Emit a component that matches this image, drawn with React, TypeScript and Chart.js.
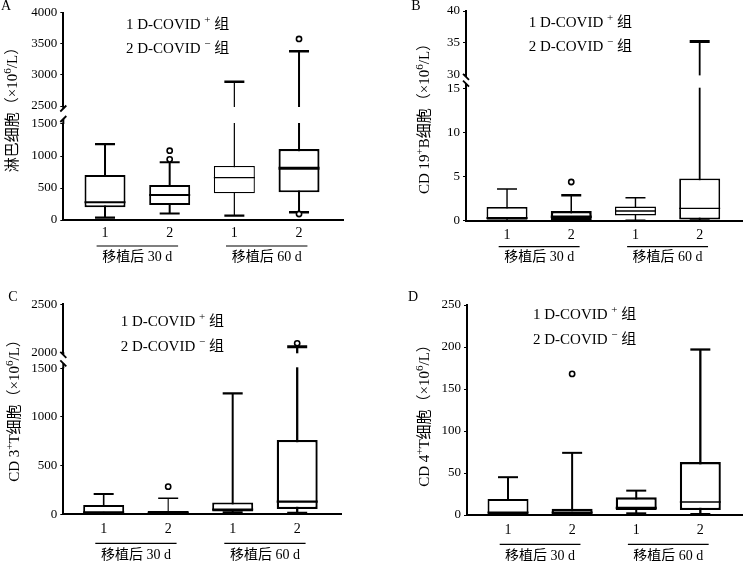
import React, { useEffect, useRef } from 'react';
import { Chart, registerables, LinearScale } from 'chart.js';

Chart.register(...registerables);

// ---------------- data ----------------
const CATEGORY_LABELS = ['1', '2', '1', '2'];
const CATEGORY_POS = [1, 2, 3, 4];
const GROUP_LABELS = ['移植后 30 d', '移植后 60 d'];
const GROUP_CATS = [[1, 2], [3, 4]];
const LEGEND_1 = '1 D-COVID ^+^ 组';
const LEGEND_2 = '2 D-COVID ^−^ 组';

// Panel A: 淋巴细胞
const A_TITLE = '淋巴细胞（×10^6^/L）';
const A_TICKS = [0, 500, 1000, 1500, 2500, 3000, 3500, 4000];
const A_MIN = [36, 100, 67, 120];
const A_Q1 = [198, 234, 417, 432];
const A_MED = [276, 390, 661, 807];
const A_Q3 = [703, 547, 844, 1109];
const A_MAX = [1187, 901, 2889, 3380];
const A_OUT_X = [2, 2, 4, 4];
const A_OUT_Y = [1083, 948, 3576, 94];

// Panel B: CD19+ B
const B_TITLE = 'CD 19^+^B细胞（×10^6^/L）';
const B_TICKS = [0, 5, 10, 15, 30, 35, 40];
const B_MIN = [0, 0, 0.05, 0];
const B_Q1 = [0.1, 0.05, 0.6, 0.15];
const B_MED = [0.3, 0.45, 1.1, 1.4];
const B_Q3 = [1.55, 1.1, 1.6, 4.8];
const B_MAX = [3.6, 2.9, 2.6, 35.2];
const B_OUT_X = [2];
const B_OUT_Y = [4.4];

// Panel C: CD3+ T
const C_TITLE = 'CD 3^+^T细胞（×10^6^/L）';
const C_TICKS = [0, 500, 1000, 1500, 2000, 2500];
const C_MIN = [0, 0, 20, 10];
const C_Q1 = [5, 5, 30, 55];
const C_MED = [20, 15, 50, 130];
const C_Q3 = [95, 35, 120, 764];
const C_MAX = [209, 164, 1243, 2058];
const C_OUT_X = [2, 4];
const C_OUT_Y = [284, 2094];

// Panel D: CD4+ T
const D_TITLE = 'CD 4^+^T细胞（×10^6^/L）';
const D_TICKS = [0, 50, 100, 150, 200, 250];
const D_MIN = [0, 0, 2, 1];
const D_Q1 = [1, 1, 6, 6];
const D_MED = [3, 3, 8.5, 15.5];
const D_Q3 = [19, 7.5, 21, 63];
const D_MAX = [45, 74, 29, 197];
const D_OUT_X = [2];
const D_OUT_Y = [168];

// ---------------- broken axis scale ----------------
type Seg = { from: number; to: number; size: number };

function makeBrokenScale(id: string, segs: Seg[], gap: number) {
  const total = segs.reduce((s, g) => s + g.size, 0) + gap * (segs.length - 1);
  class Broken extends LinearScale {
    getPixelForValue(value: any) {
      if (value === null || value === undefined || isNaN(value)) return NaN;
      let acc = 0;
      let pos = 0;
      for (let i = 0; i < segs.length; i++) {
        const s = segs[i];
        if (value <= s.to || i === segs.length - 1) {
          if (value < s.from && i > 0) {
            const prev = segs[i - 1];
            const f = (value - prev.to) / (s.from - prev.to);
            pos = acc - gap + f * gap;
          } else {
            pos = acc + ((value - s.from) / (s.to - s.from)) * s.size;
          }
          break;
        }
        acc += s.size + gap;
      }
      return this.getPixelForDecimal(pos / total);
    }
    getValueForPixel(pixel: number) {
      const pos = this.getDecimalForPixel(pixel) * total;
      let acc = 0;
      for (let i = 0; i < segs.length; i++) {
        const s = segs[i];
        if (pos <= acc + s.size || i === segs.length - 1) {
          return s.from + ((pos - acc) / s.size) * (s.to - s.from);
        }
        acc += s.size;
        if (pos < acc + gap) {
          const next = segs[i + 1];
          return s.to + ((pos - acc) / gap) * (next.from - s.to);
        }
        acc += gap;
      }
      return 0;
    }
  }
  (Broken as any).id = id;
  (Broken as any).defaults = {};
  Chart.register(Broken as any);
}

makeBrokenScale('brokenA', [{ from: 0, to: 1500, size: 96 }, { from: 2500, to: 4000, size: 93.5 }], 18);
makeBrokenScale('brokenB', [{ from: 0, to: 15, size: 132 }, { from: 30, to: 40, size: 63.4 }], 14.3);
makeBrokenScale('brokenC', [{ from: 0, to: 1500, size: 146 }, { from: 2000, to: 2500, size: 48 }], 16);

// ---------------- drawing helpers ----------------
const SERIF = '"Liberation Serif", "Noto Sans CJK SC", serif';

function drawRich(ctx: CanvasRenderingContext2D, s: string, x: number, y: number, size: number, align: 'left' | 'center') {
  const parts = s.split('^').map((t, i) => ({ t, sup: i % 2 === 1 }));
  const supSize = Math.round(size * 0.75);
  const fontOf = (p: { sup: boolean }) => `${p.sup ? supSize : size}px ${SERIF}`;
  let total = 0;
  const widths = parts.map((p) => {
    ctx.font = fontOf(p);
    const w = ctx.measureText(p.t).width;
    total += w;
    return w;
  });
  let cx = align === 'center' ? x - total / 2 : x;
  ctx.textBaseline = 'middle';
  ctx.textAlign = 'left';
  ctx.fillStyle = '#000';
  parts.forEach((p, i) => {
    ctx.font = fontOf(p);
    ctx.fillText(p.t, cx, p.sup ? y - size * 0.32 : y);
    cx += widths[i];
  });
}

interface PanelSpec {
  id: string;
  letter: string;
  left: number;
  top: number;
  w: number;
  h: number;
  title: string;
  ticks: number[];
  yMax: number;
  scaleType: string;
  brk?: [number, number];
  slashDir: number;
  min: number[];
  q1: number[];
  med: number[];
  q3: number[];
  max: number[];
  outX: number[];
  outY: number[];
  boxW: number[];
  whiskW: number[];
  medW: number[];
  capW: number[];
  yAxisW: number;
  topPad: number;
  rightPad: number;
  xAxisH: number;
  xMin: number;
  xMax: number;
  xTickPad: number;
  lineOff: number;
  textOff: number;
  titleX: number;
  titleY: number;
  legX: number;
  legY1: number;
  legY2: number;
  letterX: number;
  letterY: number;
}

const BOX_THICK = 41;
const CAP_HALF = 10;

const PANELS: PanelSpec[] = [
  {
    id: 'A', letter: 'A', left: 0, top: 0, w: 372, h: 280,
    title: A_TITLE, ticks: A_TICKS, yMax: 4000, scaleType: 'brokenA', brk: [1500, 2500], slashDir: 1,
    min: A_MIN, q1: A_Q1, med: A_MED, q3: A_Q3, max: A_MAX, outX: A_OUT_X, outY: A_OUT_Y,
    boxW: [2, 2, 1.3, 2.2], whiskW: [2, 2, 1.2, 2], medW: [2, 2, 1.3, 3], capW: [2.3, 2, 2.3, 2.5],
    yAxisW: 63.3, topPad: 12.5, rightPad: 29, xAxisH: 60, xMin: 0.355, xMax: 4.68, xTickPad: 4.6,
    lineOff: 26, textOff: 37.7, titleX: 13.3, titleY: 106, legX: 126, legY1: 25, legY2: 49.3,
    letterX: 6, letterY: 6,
  },
  {
    id: 'B', letter: 'B', left: 372, top: 0, w: 372, h: 280,
    title: B_TITLE, ticks: B_TICKS, yMax: 40, scaleType: 'brokenB', brk: [15, 30], slashDir: -1,
    min: B_MIN, q1: B_Q1, med: B_MED, q3: B_Q3, max: B_MAX, outX: B_OUT_X, outY: B_OUT_Y,
    boxW: [1.8, 2.5, 1.5, 1.8], whiskW: [1.4, 1.5, 1.4, 1.8], medW: [2, 2.5, 1.5, 1.2], capW: [1.4, 2.5, 1.4, 3],
    yAxisW: 94, topPad: 11, rightPad: 2, xAxisH: 59.3, xMin: 0.361, xMax: 4.659, xTickPad: 5.9,
    lineOff: 26, textOff: 36.6, titleX: 53.3, titleY: 115, legX: 156.7, legY1: 22.7, legY2: 46.7,
    letterX: 44, letterY: 6,
  },
  {
    id: 'C', letter: 'C', left: 0, top: 280, w: 372, h: 281,
    title: C_TITLE, ticks: C_TICKS, yMax: 2500, scaleType: 'brokenC', brk: [1500, 2000], slashDir: -1,
    min: C_MIN, q1: C_Q1, med: C_MED, q3: C_Q3, max: C_MAX, outX: C_OUT_X, outY: C_OUT_Y,
    boxW: [2, 2, 2, 2.3], whiskW: [1.6, 1.1, 2, 2.3], medW: [2, 2, 2, 2.3], capW: [2, 1.5, 2.3, 3],
    yAxisW: 63.3, topPad: 24.3, rightPad: 30.3, xAxisH: 46.7, xMin: 0.374, xMax: 4.69, xTickPad: 6.6,
    lineOff: 29, textOff: 40.7, titleX: 15, titleY: 127, legX: 120.7, legY1: 42.3, legY2: 66.7,
    letterX: 13, letterY: 17,
  },
  {
    id: 'D', letter: 'D', left: 372, top: 280, w: 372, h: 281,
    title: D_TITLE, ticks: D_TICKS, yMax: 250, scaleType: 'linear', slashDir: 1,
    min: D_MIN, q1: D_Q1, med: D_MED, q3: D_Q3, max: D_MAX, outX: D_OUT_X, outY: D_OUT_Y,
    boxW: [2, 2.3, 2.3, 2.3], whiskW: [2, 2, 2, 2.3], medW: [2, 2, 2.3, 1.3], capW: [2, 2, 2, 2.3],
    yAxisW: 95, topPad: 25, rightPad: 2, xAxisH: 46, xMin: 0.36, xMax: 4.65, xTickPad: 6.6,
    lineOff: 29.3, textOff: 41, titleX: 53.3, titleY: 132, legX: 161, legY1: 35, legY2: 60,
    letterX: 41, letterY: 17,
  },
];

function buildConfig(spec: PanelSpec): any {
  const datasets: any[] = [];
  // outliers
  datasets.push({
    type: 'scatter',
    order: 0,
    data: spec.outX.map((x, i) => ({ x, y: spec.outY[i] })),
    pointStyle: 'circle',
    pointRadius: 2.6,
    pointBorderWidth: 1.6,
    pointBorderColor: '#000',
    pointBackgroundColor: '#fff',
    showLine: false,
  });
  // whisker caps
  datasets.push({
    type: 'scatter',
    order: 1,
    data: CATEGORY_POS.flatMap((x, i) => [{ x, y: spec.max[i] }, { x, y: spec.min[i] }]),
    pointStyle: 'line',
    pointRadius: CAP_HALF,
    pointBorderWidth: (c: any) => spec.capW[Math.floor(c.dataIndex / 2)],
    pointBorderColor: '#000',
    pointBackgroundColor: '#000',
    showLine: false,
  });
  // medians
  datasets.push({
    type: 'scatter',
    order: 2,
    data: CATEGORY_POS.map((x, i) => ({ x, y: spec.med[i] })),
    pointStyle: 'line',
    pointRadius: BOX_THICK / 2,
    pointBorderWidth: spec.medW,
    pointBorderColor: '#000',
    pointBackgroundColor: '#000',
    showLine: false,
  });
  // boxes
  datasets.push({
    type: 'bar',
    order: 3,
    data: CATEGORY_POS.map((x, i) => ({ x, y: [spec.q1[i], spec.q3[i]] })),
    barThickness: BOX_THICK,
    grouped: false,
    backgroundColor: '#fff',
    borderColor: '#000',
    borderWidth: spec.boxW,
    borderSkipped: false,
    inflateAmount: 0,
  });
  // whiskers
  CATEGORY_POS.forEach((x, i) => {
    datasets.push({
      type: 'bar',
      order: 4,
      data: [{ x, y: [spec.min[i], spec.max[i]] }],
      barThickness: spec.whiskW[i],
      grouped: false,
      backgroundColor: '#000',
      borderWidth: 0,
      inflateAmount: 0,
    });
  });

  const deco = {
    id: 'deco' + spec.id,
    afterDatasetsDraw(chart: any) {
      if (!spec.brk) return;
      const ctx: CanvasRenderingContext2D = chart.ctx;
      const ys = chart.scales.y;
      const area = chart.chartArea;
      const ax = area.left;
      const yUp = ys.getPixelForValue(spec.brk[1]);
      const yLo = ys.getPixelForValue(spec.brk[0]);
      ctx.save();
      ctx.fillStyle = '#fff';
      ctx.fillRect(ax - 4, yUp + 1, area.right - ax + 6, yLo - yUp - 2);
      ctx.strokeStyle = '#000';
      ctx.lineWidth = 2;
      const s1 = yUp + 2.5;
      const s2 = yLo - 5;
      ctx.beginPath();
      ctx.moveTo(ax, yUp);
      ctx.lineTo(ax, s1);
      ctx.moveTo(ax, s2);
      ctx.lineTo(ax, yLo);
      ctx.stroke();
      ctx.lineWidth = 1.8;
      [s1, s2].forEach((sy) => {
        ctx.beginPath();
        ctx.moveTo(ax - 3, sy + 3 * spec.slashDir);
        ctx.lineTo(ax + 3, sy - 3 * spec.slashDir);
        ctx.stroke();
      });
      ctx.restore();
    },
    afterDraw(chart: any) {
      const ctx: CanvasRenderingContext2D = chart.ctx;
      const xs = chart.scales.x;
      const bottom = chart.chartArea.bottom;
      ctx.save();
      // legend text
      drawRich(ctx, LEGEND_1, spec.legX, spec.legY1, 15, 'left');
      drawRich(ctx, LEGEND_2, spec.legX, spec.legY2, 15, 'left');
      // y title
      ctx.save();
      ctx.translate(spec.titleX, spec.titleY);
      ctx.rotate(-Math.PI / 2);
      drawRich(ctx, spec.title, 0, 0, 15, 'center');
      ctx.restore();
      // group labels
      ctx.strokeStyle = '#000';
      ctx.lineWidth = 1.2;
      GROUP_LABELS.forEach((label, g) => {
        const [c0, c1] = GROUP_CATS[g];
        const xa = xs.getPixelForValue(c0 - 0.13);
        const xb = xs.getPixelForValue(c1 + 0.13);
        ctx.beginPath();
        ctx.moveTo(xa, bottom + spec.lineOff);
        ctx.lineTo(xb, bottom + spec.lineOff);
        ctx.stroke();
        ctx.font = `14px ${SERIF}`;
        ctx.textAlign = 'center';
        ctx.textBaseline = 'middle';
        ctx.fillStyle = '#000';
        ctx.fillText(label, xs.getPixelForValue((c0 + c1) / 2), bottom + spec.textOff);
      });
      // panel letter
      ctx.font = `14px ${SERIF}`;
      ctx.textAlign = 'center';
      ctx.textBaseline = 'middle';
      ctx.fillText(spec.letter, spec.letterX, spec.letterY);
      ctx.restore();
    },
  };

  return {
    type: 'bar',
    data: { datasets },
    plugins: [deco],
    options: {
      responsive: false,
      animation: false,
      events: [],
      layout: { autoPadding: false, padding: { left: 0, top: spec.topPad, right: spec.rightPad, bottom: 0 } },
      plugins: { legend: { display: false }, tooltip: { enabled: false } },
      scales: {
        x: {
          type: 'linear',
          min: spec.xMin,
          max: spec.xMax,
          offset: false,
          grid: { display: false, drawTicks: false },
          border: { display: true, color: '#000', width: 2 },
          ticks: {
            autoSkip: false,
            maxRotation: 0,
            padding: spec.xTickPad,
            color: '#000',
            font: { family: SERIF, size: 14 },
            callback: (v: number) => CATEGORY_LABELS[CATEGORY_POS.indexOf(v)] ?? '',
          },
          afterBuildTicks: (s: any) => {
            s.ticks = CATEGORY_POS.map((v) => ({ value: v }));
          },
          afterFit: (s: any) => {
            s.height = spec.xAxisH;
          },
        },
        y: {
          type: spec.scaleType,
          min: 0,
          max: spec.yMax,
          grid: { display: true, drawOnChartArea: false, drawTicks: true, tickLength: 3, color: '#000', lineWidth: 1 },
          border: { display: true, color: '#000', width: 2 },
          ticks: {
            autoSkip: false,
            padding: 3,
            color: '#000',
            font: { family: SERIF, size: 13 },
            callback: (v: number) => String(v),
          },
          afterBuildTicks: (s: any) => {
            s.ticks = spec.ticks.map((v) => ({ value: v }));
          },
          afterFit: (s: any) => {
            s.width = spec.yAxisW;
          },
        },
      },
    },
  };
}

function Panel({ spec }: { spec: PanelSpec }) {
  const ref = useRef<HTMLCanvasElement>(null);
  useEffect(() => {
    const chart = new Chart(ref.current as HTMLCanvasElement, buildConfig(spec));
    return () => chart.destroy();
  }, [spec]);
  return (
    <canvas
      ref={ref}
      width={spec.w}
      height={spec.h}
      style={{ position: 'absolute', left: spec.left, top: spec.top, width: spec.w, height: spec.h }}
    />
  );
}

export default function App() {
  return (
    <div style={{ position: 'absolute', left: 0, top: 0, width: 744, height: 561, background: '#fff', overflow: 'hidden' }}>
      {PANELS.map((p) => (
        <Panel key={p.id} spec={p} />
      ))}
    </div>
  );
}
